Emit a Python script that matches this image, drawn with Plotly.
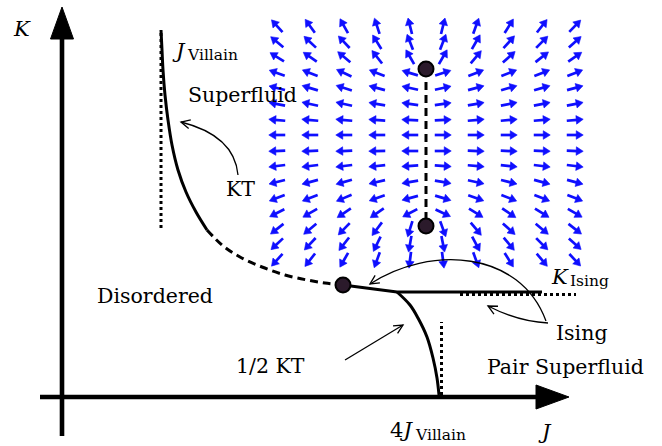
import math
import plotly.graph_objects as go

# ---------------- data (schematic coordinates: J to the right, K upward) ----------------
AXIS_J = [-22, 507]          # horizontal J axis: tail, arrow tip
AXIS_K = [-39, 390]          # vertical K axis: tail, arrow tip

VILLAIN_J = 99               # dotted asymptote J_Villain
VILLAIN_K = [169, 367]

KT_SOLID_J = [99, 100, 101, 103, 106, 110, 116, 124, 134, 145]
KT_SOLID_K = [367, 347, 327, 302, 277, 252, 227, 205, 185, 167]
KT_DASH_J = [145, 160, 178, 200, 223, 245, 263, 281]
KT_DASH_K = [167, 152, 140, 130, 122, 117, 114, 112]

ISING_J = [281, 335, 480]
ISING_K = [112, 105, 105]
ISING_DOT_J = [398, 514]     # dotted K_Ising asymptote
ISING_DOT_K = 102.5

HALF_KT_J = [335, 348, 356, 365, 371, 375, 377]
HALF_KT_K = [105, 92, 79, 60, 39, 19, 2]
FOUR_VILLAIN_J = 379.5       # dotted 4 J_Villain asymptote
FOUR_VILLAIN_K = [2, 75]

FIXED_J = [281, 364, 364]    # fixed points
FIXED_K = [112, 328, 171]

# RG flow field: grid and arrow directions (degrees, counter-clockwise from +J)
FIELD_J = [215, 248, 282, 315, 348, 381, 414, 447, 480, 513]
FIELD_K = [371, 355, 340, 324, 309, 293, 277, 262, 246, 231, 215, 199, 184, 168, 153, 137]
FIELD_ANGLE = [
    [132, 126, 119, 108, 104, 76, 70, 58, 52, 46],
    [140, 137, 133, 122, 111, 69, 60, 48, 45, 42],
    [148, 145, 140, 128, 120, 60, 50, 42, 38, 35],
    [160, 158, 155, 158, 163, 18, 22, 22, 22, 22],
    [166, 163, 162, 165, 168, 12, 15, 16, 16, 15],
    [169, 168, 168, 170, 172, 8, 10, 11, 11, 11],
    [175, 175, 175, 176, 177, 3, 5, 5, 5, 5],
    [180, 180, 180, 180, 180, 0, 0, 0, 0, 0],
    [182, 182, 182, 181, 180, 0, 358, 358, 358, 358],
    [187, 187, 187, 186, 184, 356, 355, 354, 353, 353],
    [194, 195, 196, 193, 190, 350, 348, 346, 345, 345],
    [201, 202, 203, 200, 195, 343, 340, 338, 338, 338],
    [207, 210, 214, 215, 208, 335, 328, 326, 328, 330],
    [218, 220, 226, 233, 253, 290, 310, 318, 320, 322],
    [223, 227, 232, 244, 260, 281, 298, 310, 315, 318],
    [228, 232, 240, 250, 263, 277, 290, 302, 310, 313],
]

# thin annotation arrows (Bezier control points)
KT_ARROW = [(176, 222), (172.5, 261.5), (119, 275)]
HALF_KT_ARROW = [(283, 37), (341, 72)]
ISING_ARROW_1 = [(486, 74), (456, 75.5), (426, 91)]
ISING_ARROW_2 = [(484, 76), (458, 147), (368, 152), (308, 113)]

# ---------------- figure ----------------
fig = go.Figure()
BLUE = "#0f0fff"
BLACK = "black"

# flow field arrows
L, HL, HW = 16.5, 7.0, 4.3
shaft_x, shaft_y, head_x, head_y = [], [], [], []
for r, k in enumerate(FIELD_K):
    for c, j in enumerate(FIELD_J):
        a = math.radians(FIELD_ANGLE[r][c])
        ux, uy = math.cos(a), math.sin(a)
        tx, ty = j - ux * L / 2, k - uy * L / 2
        hx, hy = j + ux * L / 2, k + uy * L / 2
        bx, by = hx - ux * HL, hy - uy * HL
        shaft_x += [tx, bx + ux * 1.0, None]
        shaft_y += [ty, by + uy * 1.0, None]
        px, py = -uy, ux
        head_x += [hx, bx + px * HW, bx - px * HW, hx, None]
        head_y += [hy, by + py * HW, by - py * HW, hy, None]
fig.add_trace(go.Scatter(x=shaft_x, y=shaft_y, mode="lines",
                         line=dict(color=BLUE, width=2.7), hoverinfo="skip"))
fig.add_trace(go.Scatter(x=head_x, y=head_y, mode="lines", fill="toself",
                         fillcolor=BLUE, line=dict(color=BLUE, width=0.6), hoverinfo="skip"))

# axes
fig.add_trace(go.Scatter(x=[AXIS_J[0], AXIS_J[1] - 30], y=[0, 0], mode="lines",
                         line=dict(color=BLACK, width=4.6), hoverinfo="skip"))
fig.add_trace(go.Scatter(x=[0, 0], y=[AXIS_K[0], AXIS_K[1] - 30], mode="lines",
                         line=dict(color=BLACK, width=4.6), hoverinfo="skip"))
fig.add_trace(go.Scatter(x=[AXIS_J[1], AXIS_J[1] - 33, AXIS_J[1] - 33, AXIS_J[1]],
                         y=[0, 12, -12, 0], mode="lines", fill="toself",
                         fillcolor=BLACK, line=dict(color=BLACK, width=1), hoverinfo="skip"))
fig.add_trace(go.Scatter(x=[0, -11.5, 11.5, 0],
                         y=[AXIS_K[1], AXIS_K[1] - 32, AXIS_K[1] - 32, AXIS_K[1]],
                         mode="lines", fill="toself",
                         fillcolor=BLACK, line=dict(color=BLACK, width=1), hoverinfo="skip"))

# dotted asymptotes
dot_line = dict(color=BLACK, width=3, dash="dot")
fig.add_trace(go.Scatter(x=[VILLAIN_J, VILLAIN_J], y=VILLAIN_K, mode="lines",
                         line=dot_line, hoverinfo="skip"))
fig.add_trace(go.Scatter(x=ISING_DOT_J, y=[ISING_DOT_K, ISING_DOT_K], mode="lines",
                         line=dot_line, hoverinfo="skip"))
fig.add_trace(go.Scatter(x=[FOUR_VILLAIN_J, FOUR_VILLAIN_J], y=FOUR_VILLAIN_K, mode="lines",
                         line=dot_line, hoverinfo="skip"))

# phase boundaries
fig.add_trace(go.Scatter(x=KT_SOLID_J, y=KT_SOLID_K, mode="lines",
                         line=dict(color=BLACK, width=3, shape="spline"), hoverinfo="skip"))
fig.add_trace(go.Scatter(x=KT_DASH_J, y=KT_DASH_K, mode="lines",
                         line=dict(color=BLACK, width=3, shape="spline", dash="8px,5px"),
                         hoverinfo="skip"))
fig.add_trace(go.Scatter(x=ISING_J, y=ISING_K, mode="lines",
                         line=dict(color=BLACK, width=3), hoverinfo="skip"))
fig.add_trace(go.Scatter(x=HALF_KT_J, y=HALF_KT_K, mode="lines",
                         line=dict(color=BLACK, width=3, shape="spline"), hoverinfo="skip"))
fig.add_trace(go.Scatter(x=[FIXED_J[1], FIXED_J[2]], y=[FIXED_K[1], FIXED_K[2]], mode="lines",
                         line=dict(color=BLACK, width=3, dash="8px,5px"), hoverinfo="skip"))

# fixed points
fig.add_trace(go.Scatter(x=FIXED_J, y=FIXED_K, mode="markers",
                         marker=dict(size=15, color="#2b1a2b", line=dict(color=BLACK, width=2)),
                         hoverinfo="skip"))

# thin arrows
shapes = []
def chevron(tip, frm, h=10, th=26):
    dx, dy = tip[0] - frm[0], tip[1] - frm[1]
    n = math.hypot(dx, dy)
    ux, uy = dx / n, dy / n
    pts = []
    for s in (1, -1):
        t = math.radians(th * s)
        rx = ux * math.cos(t) - uy * math.sin(t)
        ry = ux * math.sin(t) + uy * math.cos(t)
        pts.append((tip[0] - h * rx, tip[1] - h * ry))
    return (f"M {pts[0][0]},{pts[0][1]} L {tip[0]},{tip[1]} L {pts[1][0]},{pts[1][1]}")

thin = dict(color=BLACK, width=1.3)
p0, c, p2 = KT_ARROW
shapes.append(dict(type="path", xref="x", yref="y", line=thin,
                   path=f"M {p0[0]},{p0[1]} Q {c[0]},{c[1]} {p2[0]},{p2[1]}"))
shapes.append(dict(type="path", xref="x", yref="y", line=thin, path=chevron(p2, c)))
p0, p1 = HALF_KT_ARROW
shapes.append(dict(type="path", xref="x", yref="y", line=thin,
                   path=f"M {p0[0]},{p0[1]} L {p1[0]},{p1[1]}"))
shapes.append(dict(type="path", xref="x", yref="y", line=thin, path=chevron(p1, p0)))
p0, c, p2 = ISING_ARROW_1
shapes.append(dict(type="path", xref="x", yref="y", line=thin,
                   path=f"M {p0[0]},{p0[1]} Q {c[0]},{c[1]} {p2[0]},{p2[1]}"))
shapes.append(dict(type="path", xref="x", yref="y", line=thin, path=chevron(p2, c)))
p0, c1, c2, p3 = ISING_ARROW_2
shapes.append(dict(type="path", xref="x", yref="y", line=thin,
                   path=f"M {p0[0]},{p0[1]} C {c1[0]},{c1[1]} {c2[0]},{c2[1]} {p3[0]},{p3[1]}"))
shapes.append(dict(type="path", xref="x", yref="y", line=thin, path=chevron(p3, c2)))

# labels
FONT = "DejaVu Serif"
ann = []
def label(text, x, y, size=20.5, xanchor="center"):
    ann.append(dict(text=text, x=x, y=y, xref="x", yref="y", showarrow=False,
                    xanchor=xanchor, yanchor="middle",
                    font=dict(family=FONT, size=size, color=BLACK)))

label("<i>K</i>", -40, 368, 21)
label("<i>J</i>", 483, -35, 21)
label("<i>J</i>", 117, 346, 21)
label("Villain", 123, 342, 15.5, "left")
label("Superfluid", 180, 302)
label("KT", 178, 208)
label("Disordered", 93, 101)
label("1/2 KT", 208, 31)
label("Pair Superfluid", 503, 30)
label("Ising", 520, 64)
label("<i>K</i>", 498, 120, 21)
label("Ising", 506, 116, 15.5, "left")
label("4<i>J</i>", 339, -33, 21)
label("Villain", 351, -38, 15.5, "left")

fig.update_layout(
    width=662, height=446,
    margin=dict(l=0, r=0, t=0, b=0),
    paper_bgcolor="white", plot_bgcolor="white",
    showlegend=False,
    xaxis=dict(range=[-62, 600], visible=False, fixedrange=True),
    yaxis=dict(range=[-49, 397], visible=False, fixedrange=True),
    shapes=shapes, annotations=ann,
)
fig.write_html("out.html")
